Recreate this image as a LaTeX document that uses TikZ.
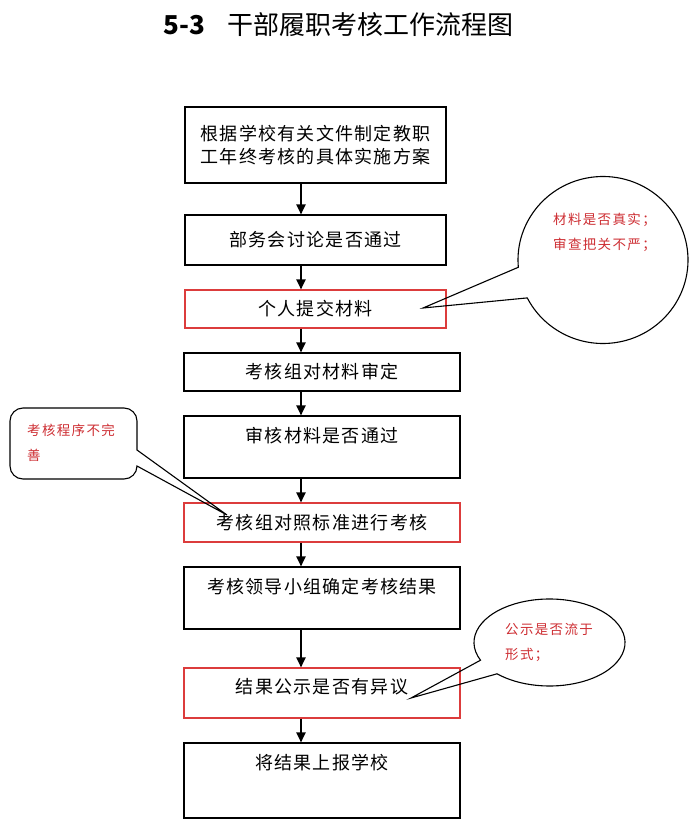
\documentclass[tikz,border=0pt]{standalone}
\usepackage{fontspec}
\setmainfont{Noto Sans CJK SC}
\usetikzlibrary{arrows.meta,positioning}

\definecolor{notered}{RGB}{205,45,50}
\definecolor{edgered}{RGB}{220,60,60}

\tikzset{
	stepbox/.style={draw, line width=1.1pt, inner sep=0pt},
	keybox/.style={stepbox, draw=edgered},
	boxtext/.style={inner sep=0pt, align=center, font=\fontsize{18}{23}\selectfont\addfontfeature{LetterSpace=7}},
	flow/.style={-{Triangle[length=10pt,width=9pt]}, line width=1.9pt},
	bubble/.style={draw, line width=1.1pt},
	note/.style={text=notered, align=left, anchor=west, inner sep=0pt, font=\fontsize{13.5}{25}\selectfont\addfontfeature{LetterSpace=10}}
}

\begin{document}
\begin{tikzpicture}[x=1pt, y=1pt]
		\useasboundingbox (0,0) rectangle (700,-826);

		% title
		\node[font=\fontsize{26}{26}\selectfont] (title) at (338.5,-25) {\textbf{5-3}\hspace{22pt}干部履职考核工作流程图};

		% boxes
		\node[stepbox, boxtext, minimum width=261pt, minimum height=76pt] (b1) at (315.5,-145) {根据学校有关文件制定教职\\工年终考核的具体实施方案};
		\node[stepbox, boxtext, minimum width=261pt, minimum height=50pt] (b2) at (315.5,-240) {部务会讨论是否通过};
		\node[keybox, boxtext, minimum width=261pt, minimum height=38pt] (b3) at (315.5,-309) {个人提交材料};
		\node[stepbox, boxtext, minimum width=276pt, minimum height=38pt] (b4) at (322,-372) {考核组对材料审定};
		\node[stepbox, minimum width=276pt, minimum height=62pt] (b5) at (322,-447) {};
		\node[boxtext, below=12pt of b5.north] (t5) {审核材料是否通过};
		\node[keybox, boxtext, minimum width=276pt, minimum height=39pt] (b6) at (322,-522.5) {考核组对照标准进行考核};
		\node[stepbox, minimum width=276pt, minimum height=62pt] (b7) at (322,-598) {};
		\node[boxtext, below=12pt of b7.north] (t7) {考核领导小组确定考核结果};
		\node[keybox, minimum width=276pt, minimum height=50pt] (b8) at (322,-693) {};
		\node[boxtext, below=11pt of b8.north] (t8) {结果公示是否有异议};
		\node[stepbox, minimum width=276pt, minimum height=75pt] (b9) at (322,-780.5) {};
		\node[boxtext, below=12pt of b9.north] (t9) {将结果上报学校};

		% arrows
		\coordinate (axis) at (301,0);
		\draw[flow] (b1.south -| axis) -- (b2.north -| axis);
		\draw[flow] (b2.south -| axis) -- (b3.north -| axis);
		\draw[flow] (b3.south -| axis) -- (b4.north -| axis);
		\draw[flow] (b4.south -| axis) -- (b5.north -| axis);
		\draw[flow] (b5.south -| axis) -- (b6.north -| axis);
		\draw[flow] (b6.south -| axis) -- (b7.north -| axis);
		\draw[flow] (b7.south -| axis) -- (b8.north -| axis);
		\draw[flow] (b8.south -| axis) -- (b9.north -| axis);

		% round callout at the top right
		\coordinate (c1) at (603,-260);
		\coordinate (tip1) at (423,-308);
		\draw[bubble] (tip1) -- ([shift={(185:85pt and 83.5pt)}]c1) arc[start angle=185, end angle=-153, x radius=85pt, y radius=83.5pt] -- cycle;
		\node[note] (n1) at (553,-232) {材料是否真实；\\审查把关不严；};

		% rounded box callout on the left
		\coordinate (tip2) at (227,-515);
		\draw[bubble] (137,-450) -- (137,-421) arc[start angle=0, end angle=90, radius=13pt] -- (23,-408) arc[start angle=90, end angle=180, radius=13pt] -- (10,-466) arc[start angle=180, end angle=270, radius=13pt] -- (124,-479) arc[start angle=270, end angle=360, radius=13pt] -- (tip2) -- cycle;
		\node[note] (n2) at (27,-443) {考核程序不完\\善};

		% oval callout at the bottom
		\coordinate (c3) at (549.5,-642.5);
		\coordinate (tip3) at (411,-698);
		\draw[bubble] (tip3) -- ([shift={(204:75.5pt and 43.5pt)}]c3) arc[start angle=204, end angle=-134, x radius=75.5pt, y radius=43.5pt] -- cycle;
		\node[note] (n3) at (505,-642.5) {公示是否流于\\形式；};

	\end{tikzpicture}
\end{document}
